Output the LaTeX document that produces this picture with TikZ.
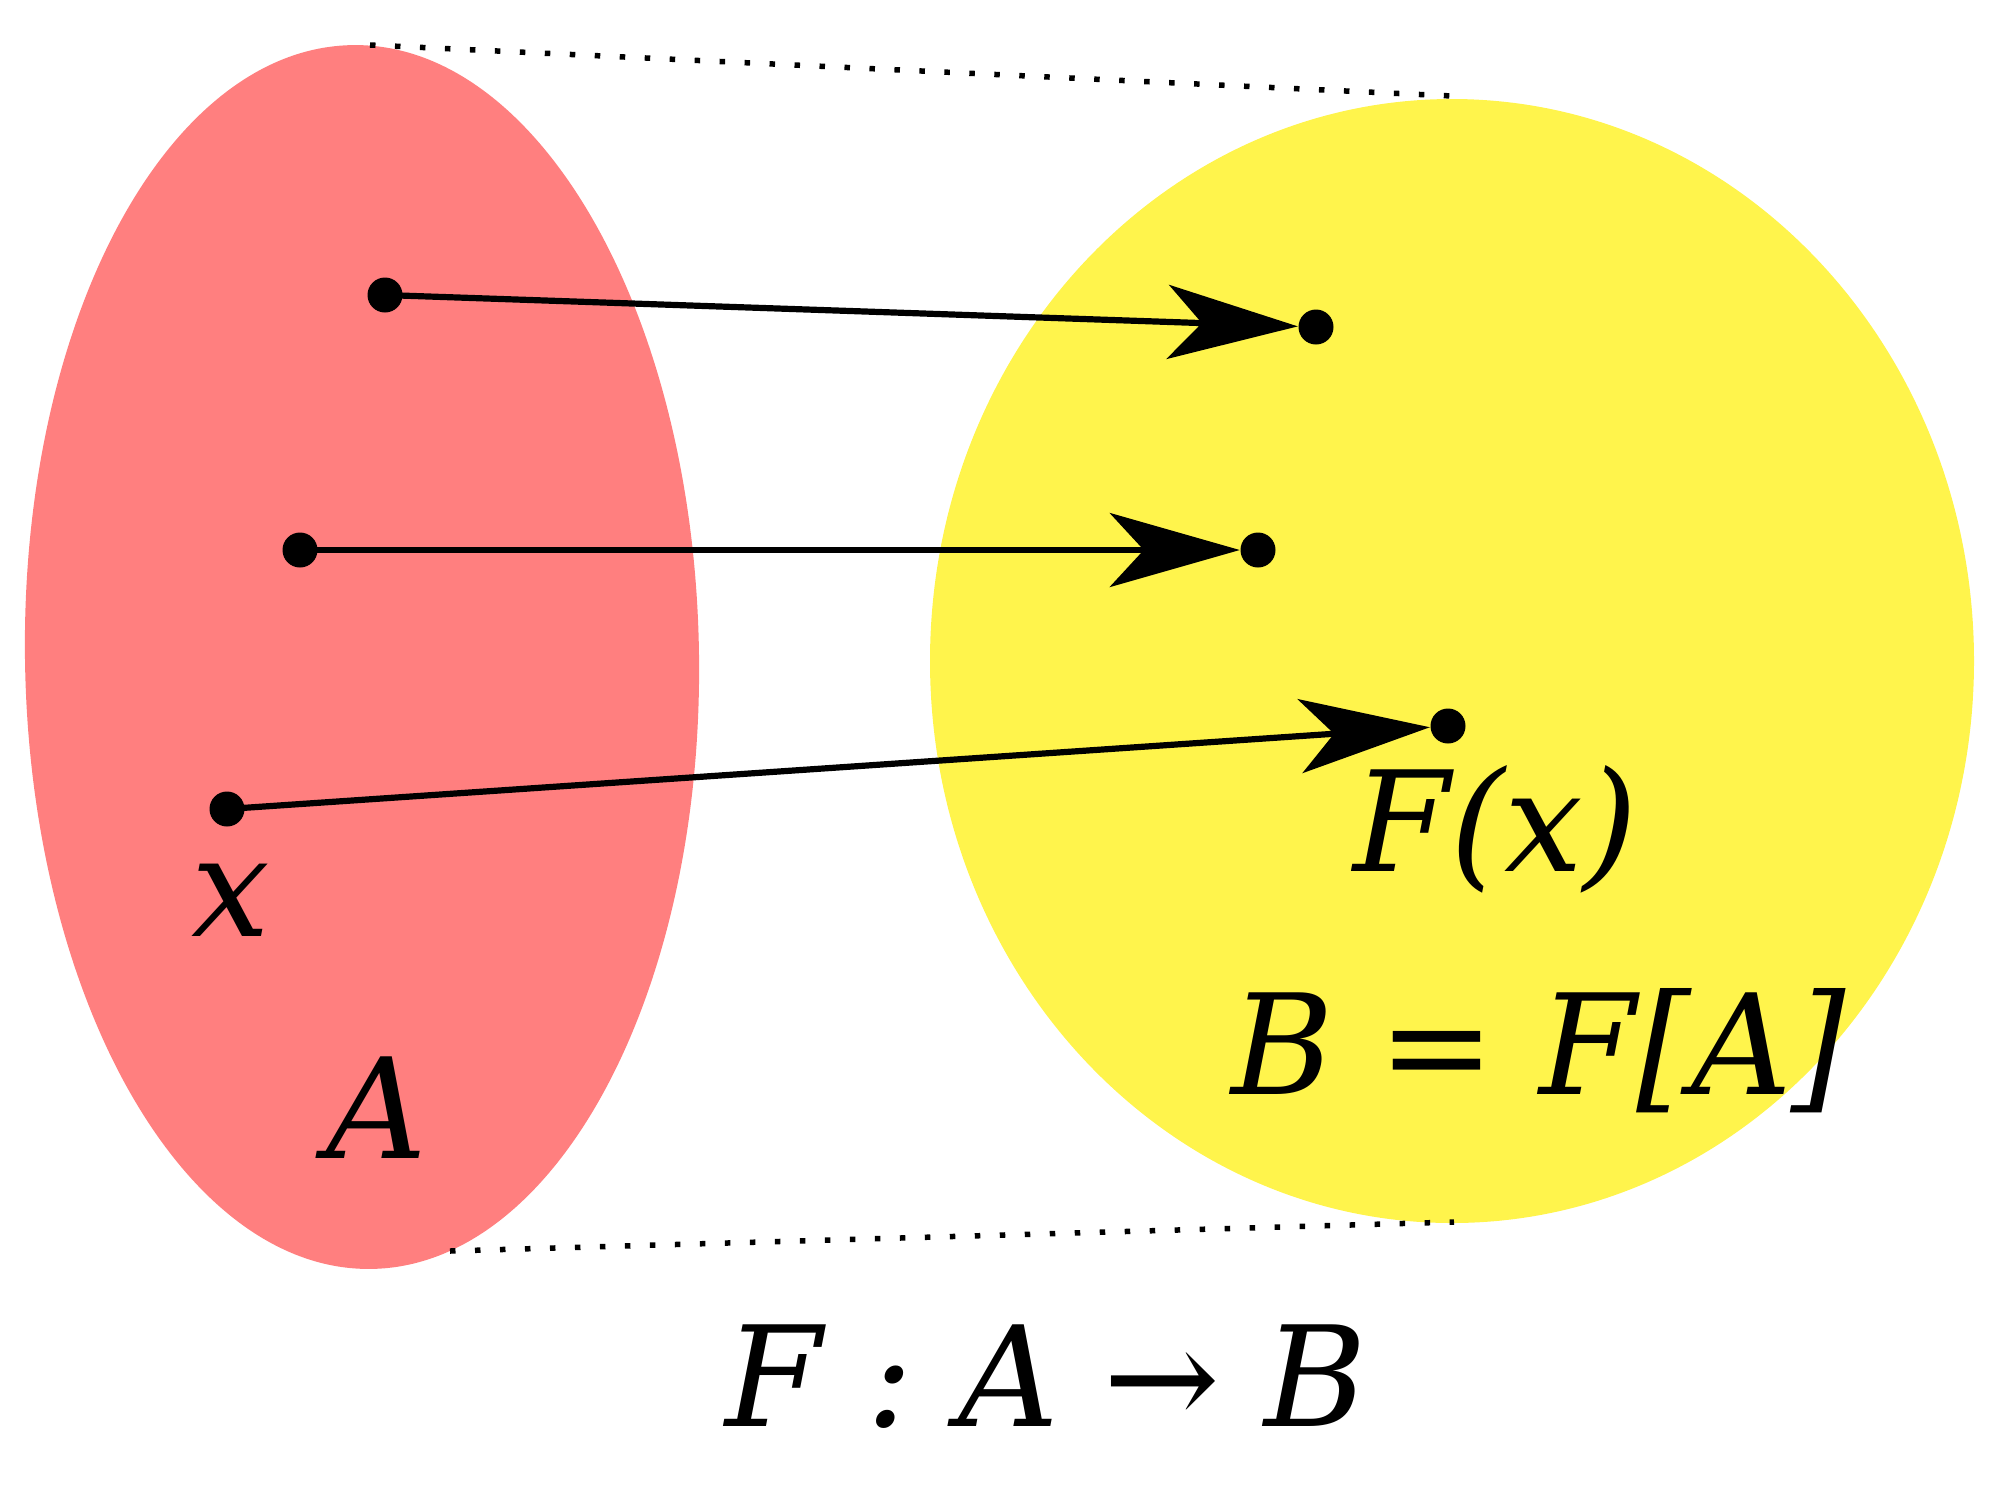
\documentclass[tikz,border=0pt]{standalone}
\usepackage{fontspec}
\setmainfont{DejaVu Serif}
\usetikzlibrary{arrows.meta}
\definecolor{setA}{RGB}{255,127,127}
\definecolor{setB}{RGB}{255,244,76}
\tikzset{
  pt/.style={circle,fill=black,inner sep=0pt,minimum size=0.35cm},
  maparrow/.style={line width=0.062cm,-{Stealth[length=1.3cm,width=0.74cm,inset=0.34cm]}},
  dotline/.style={line width=0.055cm,dash pattern=on 0.055cm off 0.195cm},
  lbl/.style={inner sep=0pt,anchor=base west,font=\fontsize{39.7}{48}\selectfont\itshape}
}
\begin{document}
\begin{tikzpicture}[x=1cm,y=1cm]
\useasboundingbox (0,0) rectangle (20,-15);
% sets
\fill[setA,rotate around={0.9:(3.62,-6.57)}] (3.62,-6.57) ellipse [x radius=3.37cm,y radius=6.12cm];
\fill[setB] (14.52,-6.61) ellipse [x radius=5.22cm,y radius=5.62cm];
% dotted outlines
\coordinate (t1) at (3.70,-0.45);
\coordinate (t2) at (14.52,-0.96);
\coordinate (b1) at (4.50,-12.51);
\coordinate (b2) at (14.54,-12.22);
\draw[dotline] (t1) -- (t2);
\draw[dotline] (b1) -- (b2);
% points
\node[pt] (a1) at (3.85,-2.95) {};
\node[pt] (a2) at (3.00,-5.50) {};
\node[pt] (a3) at (2.27,-8.09) {};
\node[pt] (c1) at (13.16,-3.27) {};
\node[pt] (c2) at (12.58,-5.50) {};
\node[pt] (c3) at (14.48,-7.26) {};
% arrows
\draw[maparrow] (a1.center) -- (c1);
\draw[maparrow] (a2.center) -- (c2);
\draw[maparrow] (a3.center) -- (c3);
% labels
\node[lbl] (lx) at (1.91,-9.36) {x};
\node[lbl] (lA) at (3.26,-11.58) {A};
\node[lbl] (lFx) at (13.53,-8.71) {F(x)};
\node[lbl] (lB) at (12.31,-10.94) {B = F[A]};
\node[lbl] (lF) at (7.25,-14.26) {F : A → B};
\end{tikzpicture}
\end{document}
